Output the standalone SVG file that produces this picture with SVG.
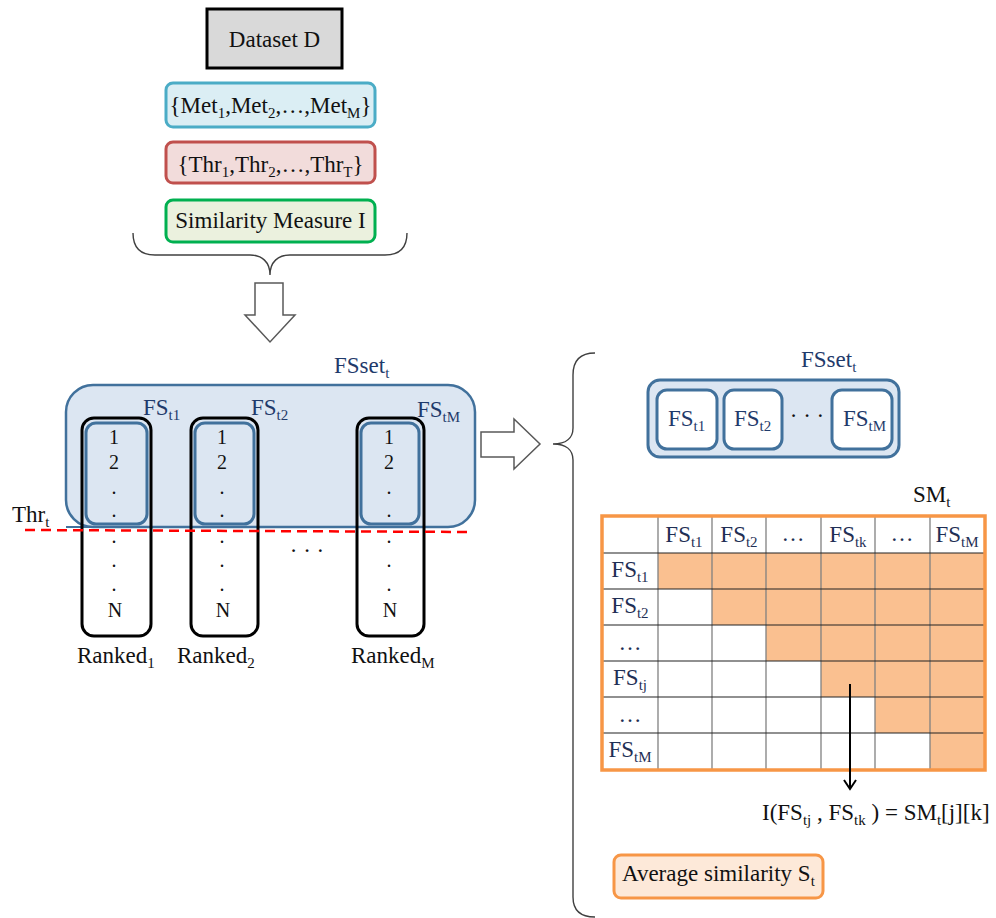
<svg xmlns="http://www.w3.org/2000/svg" width="996" height="918" viewBox="0 0 996 918">
  <style>
    text { font-family: "Liberation Serif", "Times New Roman", serif; font-size: 23px; fill: #111; }
    .navy { fill: #1f3a6b; }
    .num { font-size: 20px; text-anchor: middle; }
    .sub { font-size: 15px; }
    .mt { font-size: 23px; fill: #1f2f55; text-anchor: middle; }
    .brace { fill: none; stroke: #404040; stroke-width: 1.4; }
    .blk { fill: #fff; stroke: #595959; stroke-width: 1.5; }
    .rank { fill: none; stroke: #000; stroke-width: 3; }
    .fsin { fill: none; stroke: #41719c; stroke-width: 3; }
    .fsbox { fill: #fff; stroke: #41719c; stroke-width: 3; }
    .cell { fill: #fac090; }
    .vline { stroke: #808080; stroke-width: 1.3; }
    .hline { stroke: #222; stroke-width: 1.2; }
  </style>

  <!-- inputs -->
  <g id="dataset">
    <rect x="207" y="9" width="135" height="59" fill="#d9d9d9" stroke="#000" stroke-width="3"/>
    <text x="274.5" y="47" text-anchor="middle">Dataset D</text>
  </g>
  <g id="methods">
    <rect x="166" y="83" width="209" height="44" rx="7" fill="#dbeef4" stroke="#4bacc6" stroke-width="3"/>
    <text x="270.5" y="113" text-anchor="middle">{Met<tspan class="sub" dy="5">1</tspan><tspan dy="-5">,Met</tspan><tspan class="sub" dy="5">2</tspan><tspan dy="-5">,…,Met</tspan><tspan class="sub" dy="5">M</tspan><tspan dy="-5">}</tspan></text>
  </g>
  <g id="thresholds">
    <rect x="166" y="142" width="209" height="41" rx="7" fill="#f2dcdb" stroke="#c0504d" stroke-width="3"/>
    <text x="270.5" y="172" text-anchor="middle">{Thr<tspan class="sub" dy="5">1</tspan><tspan dy="-5">,Thr</tspan><tspan class="sub" dy="5">2</tspan><tspan dy="-5">,…,Thr</tspan><tspan class="sub" dy="5">T</tspan><tspan dy="-5">}</tspan></text>
  </g>
  <g id="similarity">
    <rect x="166" y="200" width="209" height="42" rx="7" fill="#ebf1de" stroke="#00b050" stroke-width="3"/>
    <text x="270.5" y="228" text-anchor="middle">Similarity Measure I</text>
  </g>

  <!-- feature-set selection over the ranked lists -->
  <g id="fsset-left">
    <rect x="66" y="385" width="409" height="142" rx="27" fill="#dce6f2" stroke="#41719c" stroke-width="2.5"/>
    <line x1="66" y1="527" x2="423" y2="527" stroke="#41719c" stroke-width="2"/>
    <text class="navy" x="334" y="373">FSset<tspan class="sub" dy="5">t</tspan></text>
    <text class="navy" x="143" y="415">FS<tspan class="sub" dy="5">t1</tspan></text>
    <text class="navy" x="251" y="415">FS<tspan class="sub" dy="5">t2</tspan></text>
    <text class="navy" x="417" y="417">FS<tspan class="sub" dy="5">tM</tspan></text>
  </g>

  <g id="ranked1">
    <rect class="fsin" x="86" y="423" width="61" height="101" rx="10"/>
    <rect class="rank" x="82" y="418" width="69" height="218" rx="12"/>
    <text class="num" x="114" y="444">1</text>
    <text class="num" x="114" y="469">2</text>
    <text class="num" x="114" y="494">.</text>
    <text class="num" x="114" y="517">.</text>
    <text class="num" x="114" y="543">.</text>
    <text class="num" x="114" y="567">.</text>
    <text class="num" x="114" y="591">.</text>
    <text class="num" x="115" y="617">N</text>
    <text x="77" y="663">Ranked<tspan class="sub" dy="5">1</tspan></text>
  </g>
  <g id="ranked2">
    <rect class="fsin" x="195" y="423" width="59" height="101" rx="10"/>
    <rect class="rank" x="191" y="418" width="67" height="218" rx="12"/>
    <text class="num" x="222" y="444">1</text>
    <text class="num" x="222" y="469">2</text>
    <text class="num" x="222" y="494">.</text>
    <text class="num" x="222" y="517">.</text>
    <text class="num" x="222" y="543">.</text>
    <text class="num" x="222" y="567">.</text>
    <text class="num" x="222" y="591">.</text>
    <text class="num" x="223" y="617">N</text>
    <text x="177" y="663">Ranked<tspan class="sub" dy="5">2</tspan></text>
  </g>
  <g id="rankedM">
    <rect class="fsin" x="361" y="423" width="58" height="101" rx="10"/>
    <rect class="rank" x="357" y="418" width="67" height="218" rx="12"/>
    <text class="num" x="389" y="444">1</text>
    <text class="num" x="389" y="469">2</text>
    <text class="num" x="389" y="494">.</text>
    <text class="num" x="389" y="517">.</text>
    <text class="num" x="389" y="543">.</text>
    <text class="num" x="389" y="567">.</text>
    <text class="num" x="389" y="591">.</text>
    <text class="num" x="390" y="617">N</text>
    <text x="351" y="663">Ranked<tspan class="sub" dy="5">M</tspan></text>
  </g>
  <text x="307" y="558" text-anchor="middle">· · ·</text>

  <g id="threshold">
    <line x1="25" y1="530" x2="472" y2="532" stroke="#ff0000" stroke-width="2.5" stroke-dasharray="10 6"/>
    <text x="12" y="522">Thr<tspan class="sub" dy="5">t</tspan></text>
  </g>

  <!-- feature sets of threshold t -->
  <g id="fsset-right">
    <text class="navy" x="801" y="367">FSset<tspan class="sub" dy="5">t</tspan></text>
    <rect x="648" y="380" width="251" height="77" rx="12" fill="#dce6f2" stroke="#41719c" stroke-width="3"/>
    <rect class="fsbox" x="657" y="390" width="60" height="59" rx="10"/>
    <rect class="fsbox" x="724" y="390" width="58" height="59" rx="10"/>
    <rect class="fsbox" x="832" y="390" width="60" height="59" rx="10"/>
    <text class="navy" x="668" y="426" font-size="24">FS<tspan class="sub" dy="5">t1</tspan></text>
    <text class="navy" x="734" y="426" font-size="24">FS<tspan class="sub" dy="5">t2</tspan></text>
    <text class="navy" x="843" y="426" font-size="24">FS<tspan class="sub" dy="5">tM</tspan></text>
    <text x="807" y="423" text-anchor="middle">· · ·</text>
  </g>

  <!-- similarity matrix -->
  <g id="matrix">
    <text x="913" y="502">SM<tspan class="sub" dy="5">t</tspan></text>
    <rect x="602" y="516" width="383" height="254" fill="#fff"/>
    <!-- upper triangle incl. diagonal -->
    <rect class="cell" x="658" y="553" width="327" height="36"/>
    <rect class="cell" x="712" y="589" width="273" height="36"/>
    <rect class="cell" x="766" y="625" width="219" height="36"/>
    <rect class="cell" x="821" y="661" width="164" height="36"/>
    <rect class="cell" x="875" y="697" width="110" height="36"/>
    <rect class="cell" x="930" y="733" width="55" height="37"/>
    <g>
      <line class="vline" x1="658" y1="516" x2="658" y2="770"/>
      <line class="vline" x1="712" y1="516" x2="712" y2="770"/>
      <line class="vline" x1="766" y1="516" x2="766" y2="770"/>
      <line class="vline" x1="821" y1="516" x2="821" y2="770"/>
      <line class="vline" x1="875" y1="516" x2="875" y2="770"/>
      <line class="vline" x1="930" y1="516" x2="930" y2="770"/>
      <line class="hline" x1="602" y1="553" x2="985" y2="553"/>
      <line class="hline" x1="602" y1="589" x2="985" y2="589"/>
      <line class="hline" x1="602" y1="625" x2="985" y2="625"/>
      <line class="hline" x1="602" y1="661" x2="985" y2="661"/>
      <line class="hline" x1="602" y1="697" x2="985" y2="697"/>
      <line class="hline" x1="602" y1="733" x2="985" y2="733"/>
    </g>
    <rect x="602" y="516" width="383" height="254" fill="none" stroke="#f79646" stroke-width="3.5"/>
    <!-- header row -->
    <text class="mt" x="684" y="542">FS<tspan class="sub" dy="5">t1</tspan></text>
    <text class="mt" x="739" y="542">FS<tspan class="sub" dy="5">t2</tspan></text>
    <text class="mt" x="793" y="541">…</text>
    <text class="mt" x="848" y="542">FS<tspan class="sub" dy="5">tk</tspan></text>
    <text class="mt" x="902" y="541">…</text>
    <text class="mt" x="957" y="542">FS<tspan class="sub" dy="5">tM</tspan></text>
    <!-- row labels -->
    <text class="mt" x="630" y="577">FS<tspan class="sub" dy="5">t1</tspan></text>
    <text class="mt" x="630" y="613">FS<tspan class="sub" dy="5">t2</tspan></text>
    <text class="mt" x="630" y="650">…</text>
    <text class="mt" x="630" y="685">FS<tspan class="sub" dy="5">tj</tspan></text>
    <text class="mt" x="630" y="722">…</text>
    <text class="mt" x="630" y="757">FS<tspan class="sub" dy="5">tM</tspan></text>
  </g>

  <g id="formula">
    <text x="762" y="820" fill="#1f2f55">I(FS<tspan class="sub" dy="5">tj</tspan><tspan dy="-5"> , FS</tspan><tspan class="sub" dy="5">tk</tspan><tspan dy="-5"> ) = SM</tspan><tspan class="sub" dy="5">t</tspan><tspan dy="-5">[j][k]</tspan></text>
  </g>

  <g id="average">
    <rect x="614" y="855" width="209" height="43" rx="7" fill="#fde9d9" stroke="#f79646" stroke-width="3"/>
    <text x="622" y="881">Average similarity S<tspan class="sub" dy="5">t</tspan></text>
  </g>

  <g id="connectors">
    <path class="brace" d="M133,233 C133,248 140,255 155,255 L250,255 C262,255 270,262 270,275 C270,262 278,255 290,255 L385,255 C400,255 407,248 407,233"/>
    <polygon class="blk" points="255,283 283,283 283,315 295,315 270,342 245,315 255,315"/>
    <polygon class="blk" points="481,432 514,432 514,419 540,444 514,469 514,457 481,457"/>
    <path class="brace" d="M595,353 C580,353 573,360 573,375 L573,428 C573,438 566,444 553,444 C566,444 573,450 573,460 L573,897 C573,910 580,917 595,917"/>
    <line x1="850" y1="684" x2="850" y2="788" stroke="#000" stroke-width="2"/>
    <polyline points="844,780 850,789 856,780" fill="none" stroke="#000" stroke-width="2"/>
  </g>
</svg>
